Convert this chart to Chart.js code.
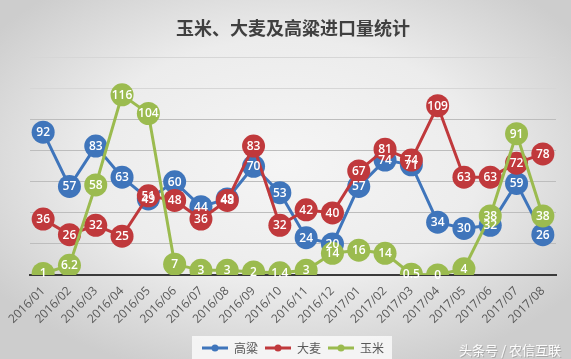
<!DOCTYPE html>
<html>
<head>
<meta charset="utf-8">
<script src="https://cdn.jsdelivr.net/npm/chart.js@4.4.0/dist/chart.umd.min.js"></script>
<style>
html,body{margin:0;padding:0;background:#e6e6e6;}
#c{display:block;}
</style>
</head>
<body>
<canvas id="c" width="571" height="359"></canvas>
<script>
const categories = ['2016/01','2016/02','2016/03','2016/04','2016/05','2016/06','2016/07','2016/08','2016/09','2016/10','2016/11','2016/12','2017/01','2017/02','2017/03','2017/04','2017/05','2017/06','2017/07','2017/08'];
const sorghum = [92,57,83,63,49,60,44,49,70,53,24,20,57,74,71,34,30,32,59,26];
const barley  = [36,26,32,25,51,48,36,48,83,32,42,40,67,81,74,109,63,63,72,78];
const corn    = [1,6.2,58,116,104,7,3,3,2,1.4,3,14,16,14,0.5,0,4,38,91,38];
const seriesNames = ['高粱','大麦','玉米'];
const seriesColors = ['#3f75bb','#c0393c','#9bbb4f'];
const yTicks = [0,20,40,60,80,100,120,140];
const titleText = '玉米、大麦及高粱进口量统计';
const watermark = '头条号 / 农信互联';

function legendIcon(color){
  const c=document.createElement('canvas'); c.width=26; c.height=10;
  const g=c.getContext('2d');
  g.strokeStyle=color; g.lineWidth=3;
  g.beginPath(); g.moveTo(0,5); g.lineTo(26,5); g.stroke();
  g.fillStyle=color; g.beginPath(); g.arc(13,5,3.5,0,2*Math.PI); g.fill();
  return c;
}

const bgPlugin = {
  id:'bg',
  beforeDraw(chart){
    const ctx=chart.ctx, w=chart.width, h=chart.height;
    ctx.save();
    ctx.translate(w/2, h*0.45);
    ctx.scale(1.6,1);
    const g=ctx.createRadialGradient(0,0,0,0,0,h*0.62);
    g.addColorStop(0,'#f5f5f5');
    g.addColorStop(0.55,'#ececec');
    g.addColorStop(1,'#cdcdcd');
    ctx.fillStyle=g;
    ctx.fillRect(-w,-h,2*w,2*h);
    ctx.restore();
    const lg=chart.legend;
    if(lg && lg.legendHitBoxes && lg.legendHitBoxes.length){
      const hb=lg.legendHitBoxes;
      const x0=hb[0].left-10, x1=hb[hb.length-1].left+hb[hb.length-1].width+8;
      const yc=hb[0].top+hb[0].height/2;
      ctx.save();
      ctx.fillStyle='rgba(247,247,247,0.9)';
      ctx.fillRect(x0,yc-12,x1-x0,24);
      ctx.restore();
    }
  },
  afterDraw(chart){
    const ctx=chart.ctx;
    ctx.save();
    ctx.font='13px "Noto Sans CJK SC"';
    ctx.textAlign='right'; ctx.textBaseline='middle';
    ctx.fillStyle='rgba(120,120,120,0.45)';
    ctx.fillText(watermark,562,351);
    ctx.fillStyle='rgba(255,255,255,0.95)';
    ctx.fillText(watermark,561,350);
    ctx.restore();
  }
};

const labelPlugin = {
  id:'valueLabels',
  afterDatasetsDraw(chart){
    const ctx=chart.ctx;
    ctx.save();
    ctx.font='600 12px "Open Sans"';
    ctx.fillStyle='#ffffff';
    ctx.textAlign='center'; ctx.textBaseline='middle';
    [2,1,0].forEach(di=>{
      const meta=chart.getDatasetMeta(di);
      const data=chart.data.datasets[di].data;
      meta.data.forEach((pt,i)=>{
        ctx.fillText(String(data[i]), pt.x, pt.y+0.5);
      });
    });
    ctx.restore();
  }
};

function ds(name,data,color){
  return {label:name,data:data,borderColor:color,backgroundColor:color,
    borderWidth:3,pointRadius:11.5,pointHoverRadius:11.5,pointBorderWidth:0,
    pointBackgroundColor:color,tension:0,fill:false};
}

new Chart(document.getElementById('c'),{
  type:'line',
  data:{labels:categories,datasets:[
    ds(seriesNames[2],corn,seriesColors[2]),
    ds(seriesNames[1],barley,seriesColors[1]),
    ds(seriesNames[0],sorghum,seriesColors[0])
  ]},
  options:{
    responsive:false,animation:false,devicePixelRatio:1,
    layout:{padding:{left:30,right:15,top:0,bottom:-5}},
    plugins:{
      title:{display:true,text:titleText,color:'#404040',
        font:{size:18,weight:'bold',family:'"Noto Sans CJK SC"'},
        padding:{top:17,bottom:19}},
      tooltip:{enabled:false},
      legend:{position:'bottom',
        labels:{usePointStyle:true,pointStyleWidth:26,color:'#595959',padding:7,
          font:{size:12,family:'"Noto Sans CJK SC"'},
          generateLabels(chart){
            return [2,1,0].map(di=>{
              const d=chart.data.datasets[di];
              return {text:d.label,pointStyle:legendIcon(d.borderColor),fillStyle:d.borderColor,
                strokeStyle:d.borderColor,lineWidth:0,hidden:false,datasetIndex:di,fontColor:'#595959'};
            });
          }}}
    },
    scales:{
      x:{type:'category',offset:true,
        grid:{display:false,drawTicks:false},
        border:{display:true,color:'#3a3a3a',width:2},
        ticks:{autoSkip:false,minRotation:45,maxRotation:45,color:'#595959',padding:9,
          font:{size:12,family:'"Open Sans"'}},
        afterFit(s){ s.height=60; }
      },
      y:{min:0,max:140,
        afterBuildTicks(s){ s.ticks=yTicks.map(v=>({value:v})); },
        ticks:{display:false},
        border:{display:false},
        grid:{drawTicks:false,lineWidth:1,
          color(c){ const v=c.tick.value; if(v===0) return 'rgba(0,0,0,0)'; return v>=120?'#d6d6d6':'#bdbdbd'; }},
        afterFit(s){ s.width=0; }
      }
    }
  },
  plugins:[bgPlugin,labelPlugin]
});
</script>
</body>
</html>
